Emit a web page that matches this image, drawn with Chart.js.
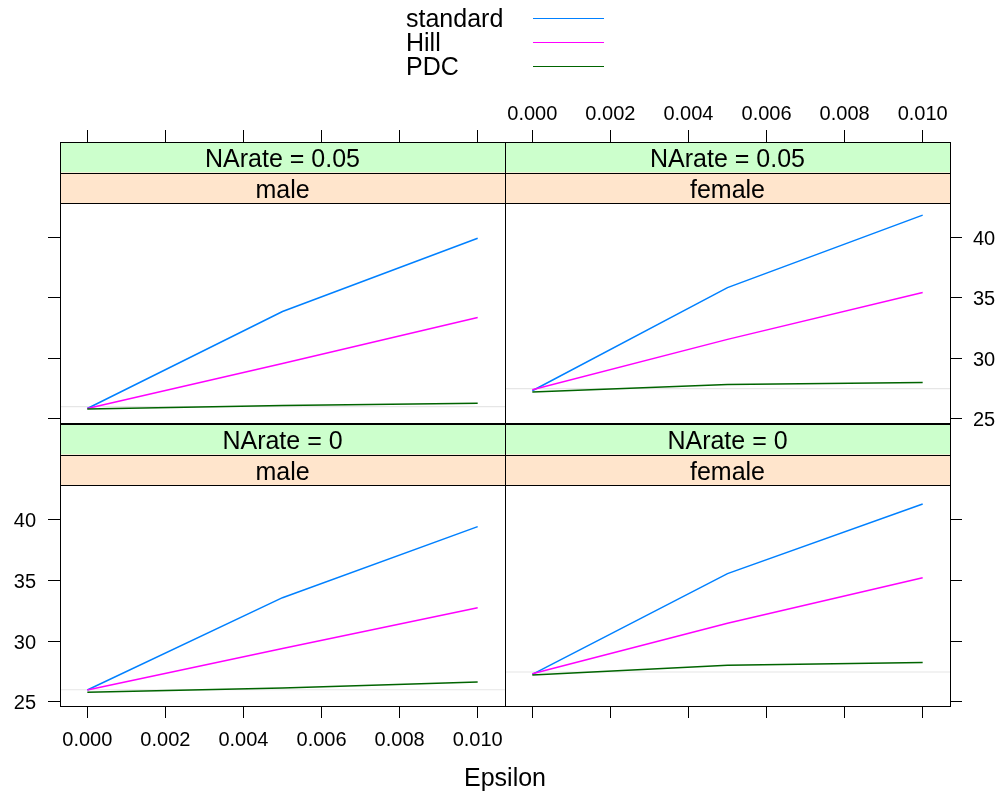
<!DOCTYPE html>
<html>
<head>
<meta charset="utf-8">
<title>Epsilon by NArate and sex</title>
<script src="https://cdn.jsdelivr.net/npm/chart.js@4.4.1/dist/chart.umd.min.js"></script>
<style>
  html, body { margin:0; padding:0; background:#fff; }
  #page { position:relative; width:1002px; height:793px; overflow:hidden;
          font-family:'Liberation Sans', Arial, Helvetica, sans-serif; color:#000; }
  #page canvas { position:absolute; left:0; top:0; }
  .txt { position:absolute; font-size:25px; line-height:25px; white-space:nowrap; }
  .keyline { position:absolute; height:0; width:71px; }
</style>
</head>
<body>
<div id="page">
  <canvas id="p0" width="1002" height="793"></canvas>
  <canvas id="p1" width="1002" height="793"></canvas>
  <canvas id="p2" width="1002" height="793"></canvas>
  <canvas id="p3" width="1002" height="793"></canvas>
  <div id="key"></div>
  <div class="txt" style="left:405px;width:200px;text-align:center;top:765px;">Epsilon</div>
</div>
<script>
// --------------------------
// data
// --------------------------
const epsilon = [0, 0.005, 0.010];
const xTicks = [0, 0.002, 0.004, 0.006, 0.008, 0.010];
const yTicks = [25, 30, 35, 40];
const methods = ['standard', 'Hill', 'PDC'];
const methodColors = ['#0080ff', '#ff00ff', '#006400'];

// panel order: top-left, top-right, bottom-left, bottom-right
const naRates = ['0.05', '0.05', '0', '0'];
const sexes = ['male', 'female', 'male', 'female'];
const trueLevel = [26.0, 27.49, 25.99, 27.45];

const standard05male   = [25.85, 33.87, 39.94];
const hill05male       = [25.85, 29.58, 33.37];
const pdc05male        = [25.80, 26.10, 26.29];
const standard05female = [27.32, 35.85, 41.85];
const hill05female     = [27.40, 31.57, 35.44];
const pdc05female      = [27.21, 27.84, 28.00];
const standard0male    = [25.97, 33.57, 39.42];
const hill0male        = [25.97, 29.38, 32.74];
const pdc0male         = [25.78, 26.13, 26.63];
const standard0female  = [27.26, 35.55, 41.29];
const hill0female      = [27.30, 31.46, 35.21];
const pdc0female       = [27.20, 28.00, 28.23];

const panelValues = [
  [standard05male, hill05male, pdc05male],
  [standard05female, hill05female, pdc05female],
  [standard0male, hill0male, pdc0male],
  [standard0female, hill0female, pdc0female]
];

// --------------------------
// layout
// --------------------------
const W = 1002, H = 793;
const X_MIN = -0.0007, X_MAX = 0.0107;
const Y_MIN = 24.65, Y_MAX = 42.85;
const STRIP_H = 30.5;
const AXIS = 60;
const FONT = "'Liberation Sans', Arial, Helvetica, sans-serif";

const boxes = [
  {left:60,  right:505, top:142, bottom:423, xPos:'top',    yPos:'left',  xLab:false, yLab:false},
  {left:505, right:950, top:142, bottom:423, xPos:'top',    yPos:'right', xLab:true,  yLab:true},
  {left:60,  right:505, top:424, bottom:706, xPos:'bottom', yPos:'left',  xLab:true,  yLab:true},
  {left:505, right:950, top:424, bottom:706, xPos:'bottom', yPos:'right', xLab:false, yLab:false}
];

Chart.defaults.font.family = FONT;
Chart.defaults.color = '#000';

const stripPlugin = {
  id: 'strips',
  afterDraw(chart, args, opts){
    const {ctx, chartArea:a} = chart;
    const fills = ['#ccffcc', '#ffe5cc'];
    ctx.save();
    // fills first
    opts.labels.forEach((txt, k)=>{
      ctx.fillStyle = fills[k];
      ctx.fillRect(a.left, a.top + k*STRIP_H, a.right - a.left, STRIP_H);
    });
    // separators + text
    ctx.lineWidth = 1;
    ctx.strokeStyle = '#000';
    ctx.font = '25px ' + FONT;
    ctx.textAlign = 'center';
    ctx.textBaseline = 'alphabetic';
    opts.labels.forEach((txt, k)=>{
      const y0 = a.top + k*STRIP_H;
      const yl = Math.round(y0 + STRIP_H) + 0.5;
      ctx.beginPath();
      ctx.moveTo(a.left, yl); ctx.lineTo(a.right, yl);
      ctx.stroke();
      ctx.fillStyle = '#000';
      ctx.fillText(txt, (a.left + a.right)/2, y0 + 25);
    });
    ctx.strokeRect(Math.round(a.left)+0.5, Math.round(a.top)+0.5,
                   Math.round(a.right - a.left), Math.round(a.bottom - a.top));
    ctx.restore();
  }
};

function makePanel(i){
  const b = boxes[i];
  const boxH = b.bottom - b.top;
  const yMaxBox = Y_MIN + (Y_MAX - Y_MIN) * boxH / (boxH - 2*STRIP_H);

  const datasets = methods.map((m, k)=>({
    label: m,
    data: epsilon.map((x, j)=>({x, y: panelValues[i][k][j]})),
    borderColor: methodColors[k],
    borderWidth: 1.5,
    pointRadius: 0,
    tension: 0,
    fill: false,
    order: methods.length - k
  }));
  datasets.push({
    label: 'ref',
    data: [{x:X_MIN, y:trueLevel[i]}, {x:X_MAX, y:trueLevel[i]}],
    borderColor: '#e6e6e6', borderWidth: 1.2, pointRadius: 0, order: 9
  });

  const pad = {
    left:   b.yPos === 'left'   ? b.left - AXIS : b.left,
    right:  b.yPos === 'right'  ? W - b.right - AXIS : W - b.right,
    top:    b.xPos === 'top'    ? b.top - AXIS : b.top,
    bottom: b.xPos === 'bottom' ? H - b.bottom - AXIS : H - b.bottom
  };

  new Chart(document.getElementById('p' + i), {
    type: 'line',
    data: { datasets },
    plugins: [stripPlugin],
    options: {
      responsive: false, animation: false, devicePixelRatio: 1,
      layout: { padding: pad },
      plugins: {
        legend: { display: false }, tooltip: { enabled: false },
        strips: { labels: ['NArate = ' + naRates[i], sexes[i]] }
      },
      scales: {
        x: {
          type: 'linear', position: b.xPos, min: X_MIN, max: X_MAX,
          afterBuildTicks: s => { s.ticks = xTicks.map(v => ({value: v})); },
          afterFit: s => { s.height = AXIS; },
          ticks: {
            autoSkip: false, maxRotation: 0, minRotation: 0,
            padding: b.xPos === 'top' ? 4 : 10,
            color: '#000', font: { size: 20 },
            callback: v => b.xLab ? Number(v).toFixed(3) : ''
          },
          grid: { drawOnChartArea: false, drawTicks: true, tickLength: 12, color: '#000', lineWidth: 1 },
          border: { display: false }
        },
        y: {
          type: 'linear', position: b.yPos, min: Y_MIN, max: yMaxBox,
          afterBuildTicks: s => { s.ticks = yTicks.map(v => ({value: v})); },
          afterFit: s => { s.width = AXIS; },
          ticks: {
            autoSkip: false, padding: b.yPos === 'left' ? 12 : 11, labelOffset: 2,
            color: '#000', font: { size: 20 },
            callback: v => b.yLab ? String(v) : ''
          },
          grid: { drawOnChartArea: false, drawTicks: true, tickLength: 12, color: '#000', lineWidth: 1 },
          border: { display: false }
        }
      }
    }
  });
}

// key (legend) above the panels
function makeKey(){
  const key = document.getElementById('key');
  methods.forEach((m, k)=>{
    const t = document.createElement('div');
    t.className = 'txt';
    t.style.left = '406px';
    t.style.top = (6 + 24.2*k) + 'px';
    t.textContent = m;
    key.appendChild(t);
    const ln = document.createElement('div');
    ln.className = 'keyline';
    ln.style.left = '533px';
    ln.style.top = (17.5 + 24.2*k) + 'px';
    ln.style.borderTop = '1.5px solid ' + methodColors[k];
    key.appendChild(ln);
  });
}

makeKey();
boxes.forEach((_, i) => makePanel(i));
</script>
</body>
</html>
